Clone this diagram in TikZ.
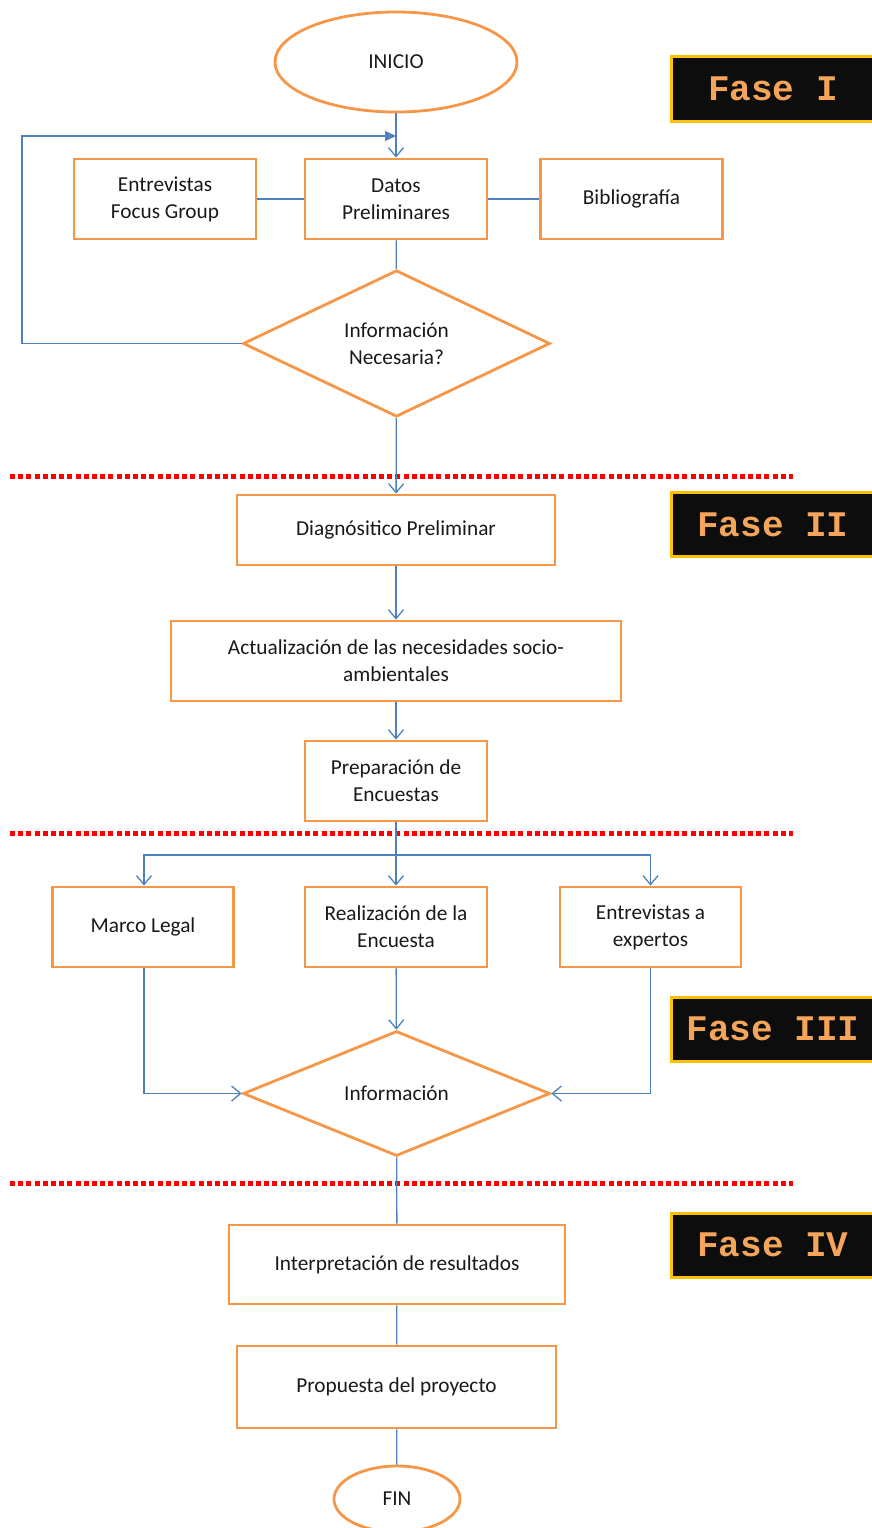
\documentclass[tikz,border=0pt]{standalone}
\usepackage{fontspec}
\setmainfont{Carlito}
\newfontfamily\fasefont{Liberation Mono}
\usetikzlibrary{shapes.geometric,arrows.meta}
\definecolor{boxorange}{HTML}{F79646}
\definecolor{lineblue}{HTML}{4F81BD}
\definecolor{fasegold}{HTML}{FFC000}
\definecolor{fasetext}{HTML}{F5A55A}
\begin{document}
\begin{tikzpicture}[x=1pt,y=-1pt,
  every node/.style={font=\fontsize{21.3}{27}\selectfont, text=black!90, align=center, inner sep=0pt},
  proc/.style={draw=boxorange, line width=2.8pt, rectangle, minimum width=#1, minimum height=80pt},
  proc/.default=182pt,
  term/.style={draw=boxorange, line width=2.8pt, ellipse},
  decis/.style={draw=boxorange, line width=2.8pt, diamond, minimum width=307pt},
  conn/.style={draw=lineblue, line width=1.3pt},
  arr/.style={conn, -{Straight Barb[length=9pt,width=15pt,line width=1.3pt]}},
  farr/.style={conn, -{Triangle[length=11pt,width=10pt]}},
  phase/.style={draw=red, line width=5pt, dash pattern=on 5pt off 3.2pt},
  fase/.style={fill=black!95, draw=fasegold, line width=3pt, minimum width=204pt, minimum height=64pt,
     font=\fasefont\bfseries\fontsize{36}{36}\selectfont, text=fasetext}
]
\clip (0,0) rectangle (872,1528);
% nodes
\node[term, minimum width=242pt, minimum height=100pt] (inicio) at (396,62) {INICIO};
\node[proc] (datos) at (396,199) {Datos\\Preliminares};
\node[proc] (focus) at (165,199) {Entrevistas\\Focus Group};
\node[proc] (biblio) at (631.5,199) {Bibliografía};
\node[decis, minimum height=143pt] (necesaria) at (396.5,343.5) {Información\\Necesaria?};
\node[proc=318pt, minimum height=70pt] (diag) at (396,530) {Diagnósitico Preliminar};
\node[proc=450pt] (actual) at (396,661) {Actualización de las necesidades socio-\\ambientales};
\node[proc] (prep) at (396,781) {Preparación de\\Encuestas};
\node[proc=181pt] (marco) at (143,927) {Marco Legal};
\node[proc] (realiz) at (396,927) {Realización de la\\Encuesta};
\node[proc=181pt] (expert) at (650.5,927) {Entrevistas a\\expertos};
\node[decis, minimum height=125pt] (info) at (396.5,1093.5) {Información};
\node[proc=336pt, minimum height=79pt] (interp) at (397,1264.5) {Interpretación de resultados};
\node[proc=319pt, minimum height=82pt] (prop) at (396.5,1387) {Propuesta del proyecto};
\node[term, minimum width=126pt, minimum height=66pt] (fin) at (397,1499) {FIN};
% phase labels
\node[fase] (f1) at (773,89) {Fase I};
\node[fase] (f2) at (773,524.5) {Fase II};
\node[fase] (f3) at (773,1029) {Fase III};
\node[fase] (f4) at (773,1245) {Fase IV};
% phase separators
\draw[phase] (10,476) -- (793,476);
\draw[phase] (10,833) -- (793,833);
\draw[phase] (10,1183) -- (793,1183);
% connectors
\coordinate (loopend) at (396,136);
\coordinate (branch) at (396,855);
\draw[arr] (inicio) -- (datos);
\draw[farr] (necesaria.west) -- (22,343.5) -- (22,136) -- (loopend);
\draw[conn] (focus) -- (datos);
\draw[conn] (datos) -- (biblio);
\draw[conn] (datos) -- (necesaria);
\draw[arr] (necesaria) -- (diag);
\draw[arr] (diag) -- (actual);
\draw[arr] (actual) -- (prep);
\draw[arr] (prep) -- (realiz);
\draw[arr] (branch) -| (marco.north -| 144,0);
\draw[arr] (branch) -| (expert.north);
\draw[arr] (realiz) -- (info);
\draw[arr] (marco.south -| 144,0) |- (info.west);
\draw[arr] (expert.south) |- (info.east);
\draw[conn] (info) -- (interp);
\draw[conn] (interp) -- (prop);
\draw[conn] (prop) -- (fin);
\end{tikzpicture}
\end{document}
